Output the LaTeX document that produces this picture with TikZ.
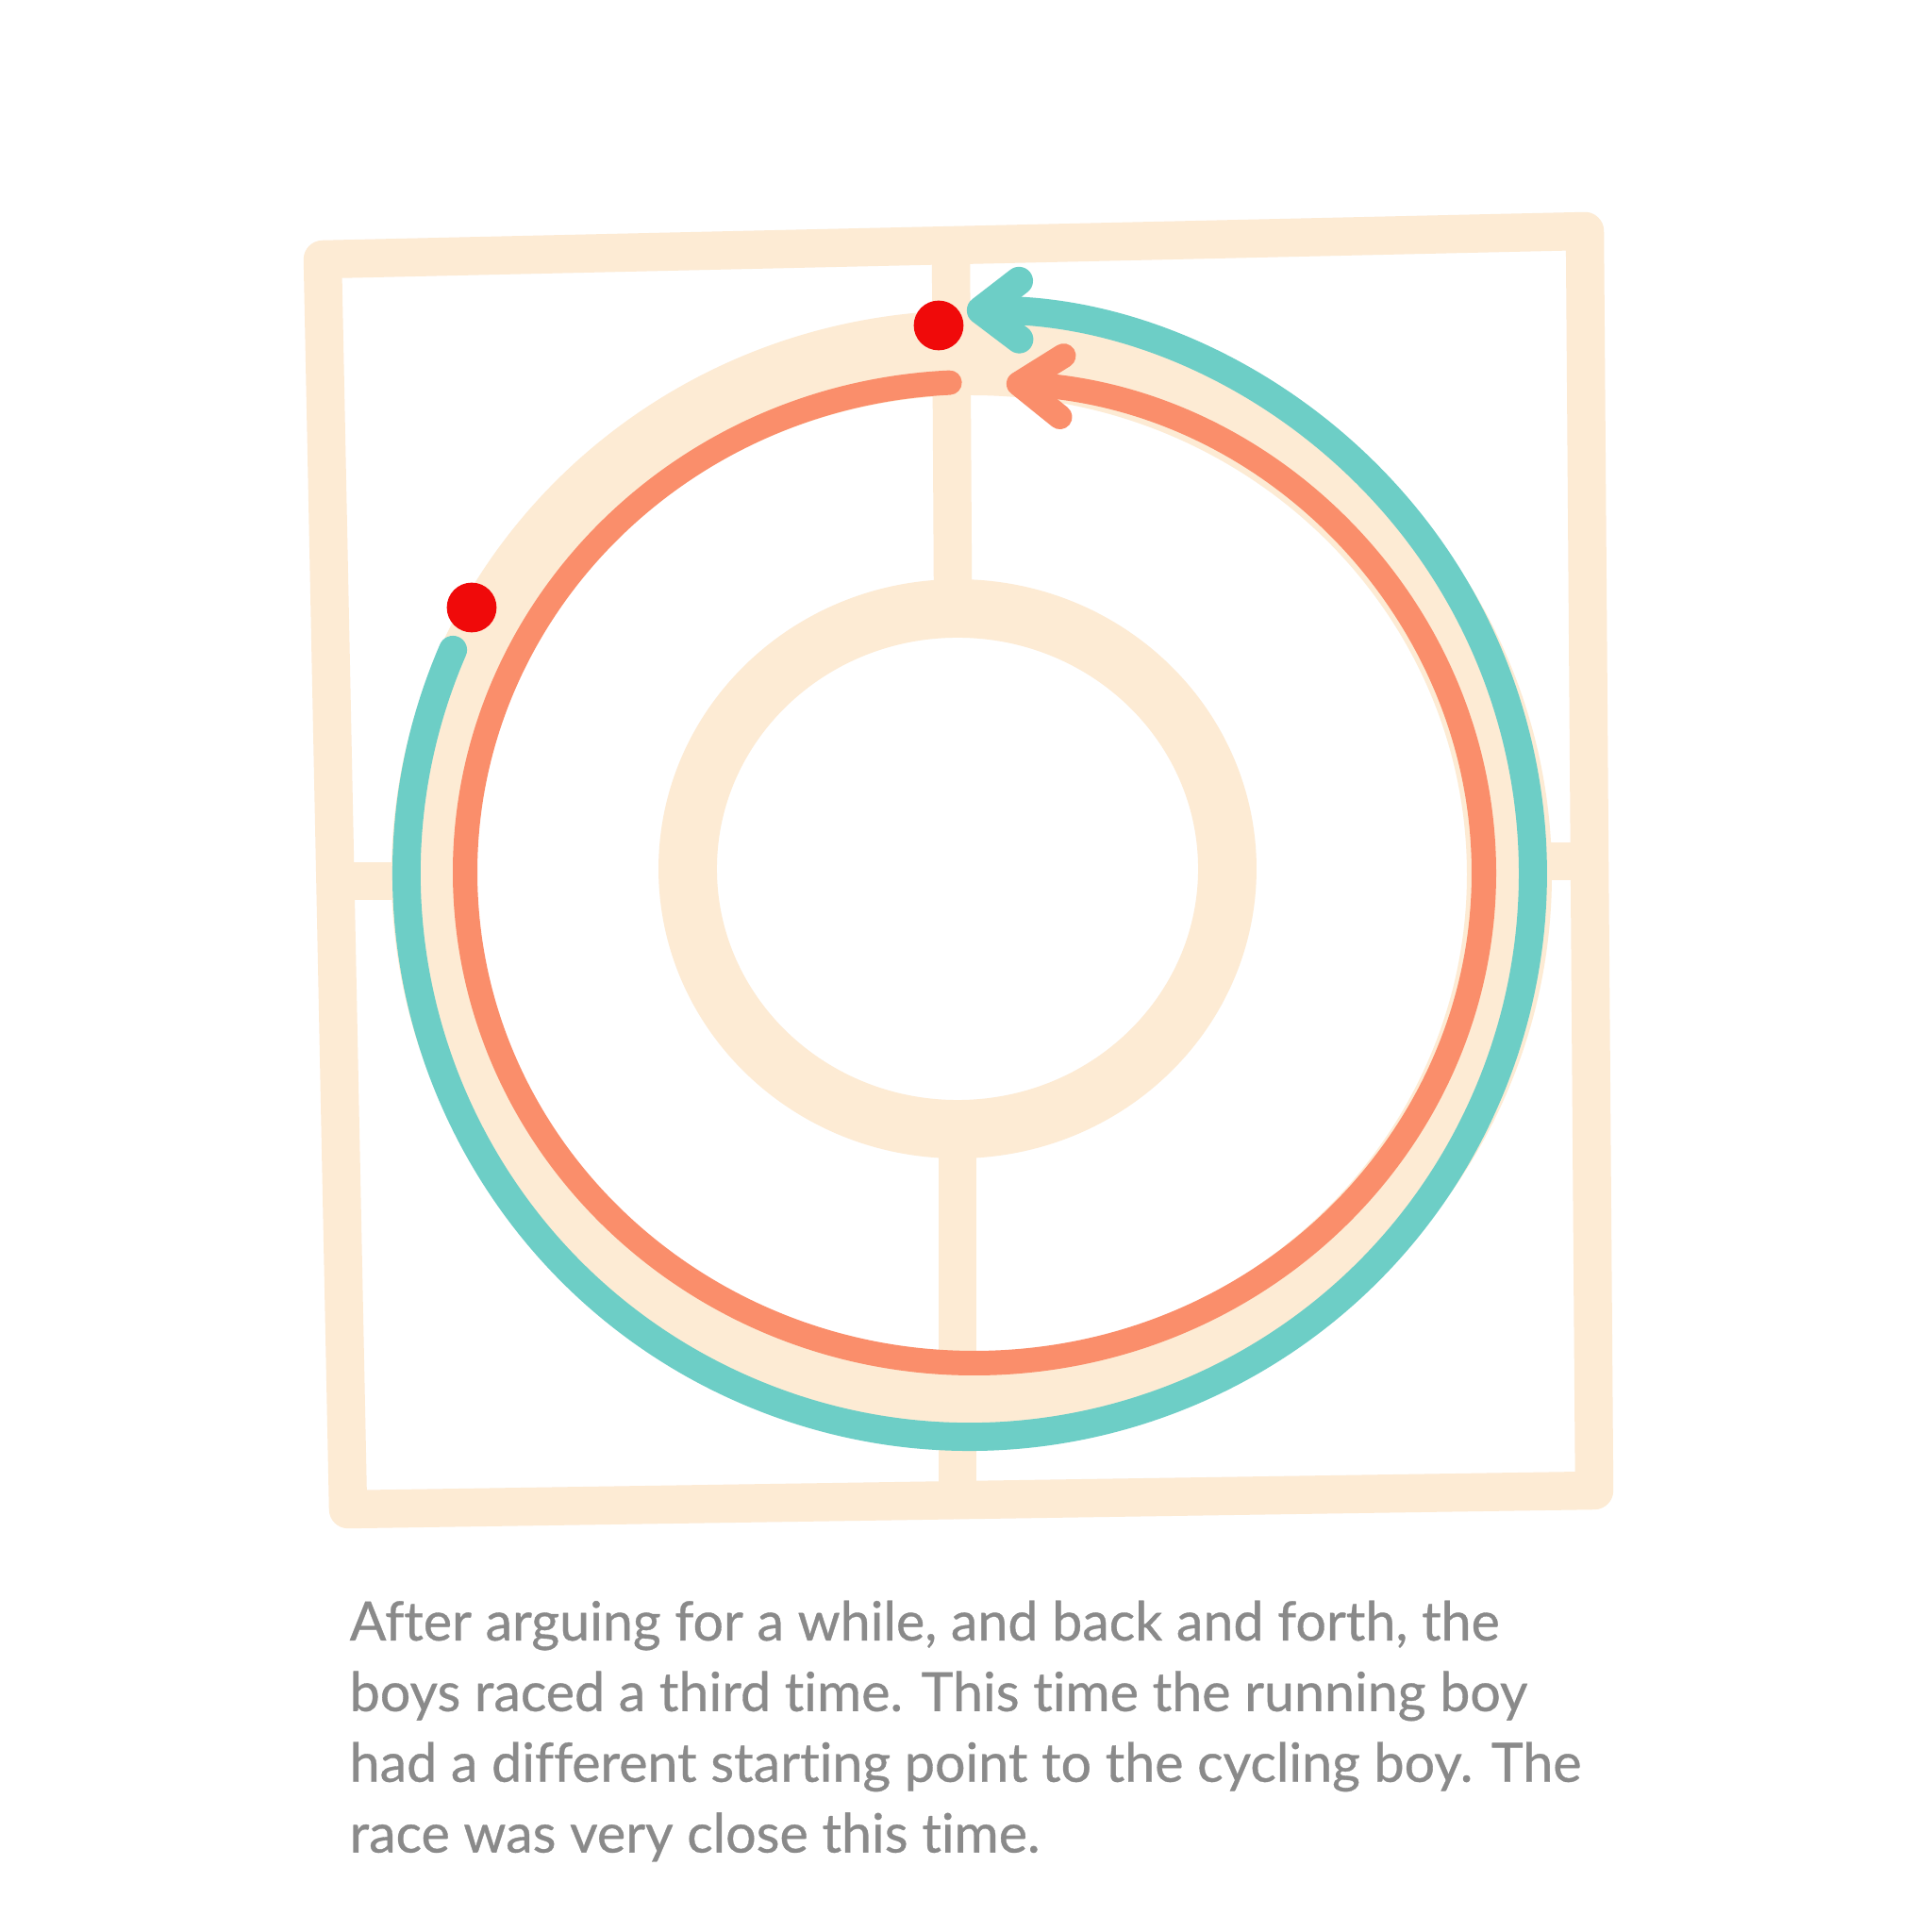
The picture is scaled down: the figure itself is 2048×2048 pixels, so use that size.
\documentclass[tikz,border=0pt]{standalone}
\usepackage{fontspec}
\setmainfont{Lato}
\newfontfamily\storyfont{Lato}[FakeBold=0.6, Ligatures=NoCommon]
\usetikzlibrary{arrows.meta}
\definecolor{sand}{HTML}{FDEBD4}
\definecolor{bike}{HTML}{6DCEC6}
\definecolor{run}{HTML}{FA8E6B}
\definecolor{marker}{HTML}{F00A0A}
\definecolor{ink}{HTML}{8A8A8A}
\begin{document}
\begin{tikzpicture}[x=0.01cm, y=0.01cm, line cap=round, line join=round,
  wall/.style={draw=sand, line width=11.5pt},
  dot/.style={circle, fill=marker, inner sep=0pt, minimum size=15pt},
  story/.style={text=ink, font=\storyfont\fontsize{16.3}{21.3}\selectfont, inner sep=0pt, align=left}]
  \fill[white] (0,0) rectangle (2048,2048);
  \useasboundingbox (0,0) rectangle (2048,2048);
  % hand drawn frame with the dividers
  \draw[wall] (342,1773) -- (1680,1803) -- (1690,468) -- (369,448) -- cycle;
  \draw[wall] (1008,1785) -- (1010,1430);
  \draw[wall] (1015,823) -- (1015,458);
  \draw[wall] (362,1114) -- (413,1114);
  \draw[wall] (1640,1135) -- (1678,1135);
  % inner island and the track
  \draw[sand, line width=17.6pt] (1015,1127) circle[x radius=286, y radius=276];
  \draw[sand, line width=25.6pt] (1030,1121) circle[x radius=570, y radius=553];
  % the two laps
  \draw[run, line width=7.4pt, -{Straight Barb[length=13pt,width=18.5pt,round]}]
    (1033,1123) ++(92.8:540 and 520) arc[start angle=92.8, end angle=446.4, x radius=540, y radius=520];
  \draw[bike, line width=8.5pt, -{Straight Barb[length=11.5pt,width=17.6pt,round]}]
    (1028,1122) ++(156.6:597) arc[start angle=156.6, end angle=450.3, radius=597];
  % starting points
  \node[dot] (topstart) at (995,1703) {};
  \node[dot] (leftstart) at (500,1404) {};
  % caption
  \node[story, anchor=north west] (caption) at (370,352) {After arguing for a while, and back and forth, the\\
    boys raced a third time. This time the running boy\\
    had a different starting point to the cycling boy. The\\
    race was very close this time.};
\end{tikzpicture}
\end{document}
